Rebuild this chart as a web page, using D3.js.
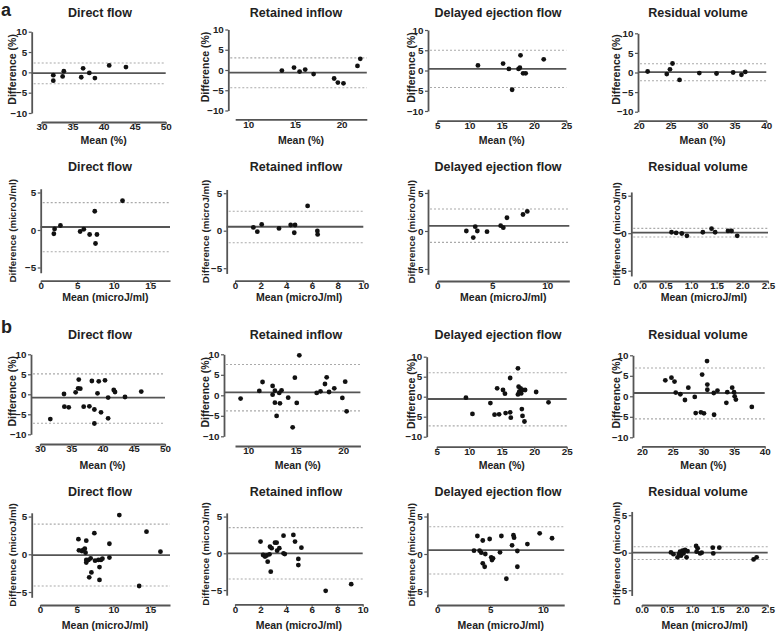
<!DOCTYPE html>
<html>
<head>
<meta charset="utf-8">
<script src="https://cdn.jsdelivr.net/npm/d3@7"></script>
<style>
  body { margin: 0; background: #fff; }
  svg text { font-family: "Liberation Sans", Arial, sans-serif; font-weight: bold; fill: #222; }
</style>
</head>
<body>
<div id="chart"></div>
<script>
// ---- data ----
const panelTitles = ['Direct flow', 'Retained inflow', 'Delayed ejection flow', 'Residual volume'];
const rowLetters = ['a', '', 'b', ''];

const pctYTicks = [-10, -5, 0, 5, 10];
const energyYTicks = [-5, 0, 5];
const pctYDomain = [-10, 10];
const energyYDomain = [-5.7, 5.5];
const pctXTicks = [[30, 35, 40, 45, 50], [10, 15, 20], [5, 10, 15, 20, 25], [20, 25, 30, 35, 40]];
const energyXTicks = [[0, 5, 10, 15], [0, 2, 4, 6, 8, 10], [0, 5, 10], [0, 0.5, 1, 1.5, 2, 2.5]];
const aPctXDomains = [[30, 50], [8.6, 22.7], [5, 25], [20, 40]];
const bPctXDomains = [[30, 50], [8.6, 21.8], [5, 25], [20, 40]];
const energyXDomains = [[0, 17.7], [0, 10], [0, 12], [0, 2.5]];

// a: percentages
const aPctDirectMean = [31.9, 31.9, 33.4, 33.6, 36.4, 36.7, 37.7, 38.6, 40.9, 43.6];
const aPctDirectDiff = [-0.7, -2.05, -1.0, 0.3, -1.2, 1.0, -0.15, -1.4, 1.7, 1.3];
const aPctRetainedMean = [13.6, 14.9, 15.5, 16.1, 17.0, 19.2, 19.6, 20.2, 21.7, 22.0];
const aPctRetainedDiff = [-0.15, 0.6, -0.4, 0.1, -1.0, -2.1, -3.1, -3.3, 1.0, 2.75];
const aPctDelayedMean = [11.3, 15.2, 16.1, 17.6, 17.8, 17.9, 16.6, 18.3, 18.7, 21.5];
const aPctDelayedDiff = [1.25, 1.7, 0.4, 0.4, 0.7, 3.75, -4.75, -0.7, -0.7, 2.75];
const aPctResidualMean = [21.4, 24.4, 24.9, 25.3, 26.4, 29.5, 32.2, 34.8, 36.1, 36.7];
const aPctResidualDiff = [0.25, -0.4, 0.8, 2.3, -1.9, -0.15, -0.25, 0.0, -0.6, 0.15];
const aPctBias = [-0.2, -0.65, 0.4, 0.1];
const aPctUpper = [2.3, 3.0, 5.0, 2.25];
const aPctLower = [-2.8, -4.4, -4.2, -2.1];

// a: energy (microJ/ml)
const aEnergyDirectMean = [1.8, 1.9, 2.7, 5.4, 5.9, 6.7, 7.4, 7.5, 7.7, 11.2];
const aEnergyDirectDiff = [-0.5, 0.15, 0.6, -0.2, 0.1, -0.6, 2.5, -1.8, -0.6, 3.9];
const aEnergyRetainedMean = [1.43, 1.74, 2.08, 3.43, 4.34, 4.68, 4.62, 5.66, 6.42, 6.44];
const aEnergyRetainedDiff = [0.44, -0.13, 0.84, 0.31, 0.76, 0.76, -0.27, 3.3, -0.04, -0.49];
const aEnergyDelayedMean = [2.64, 3.27, 3.45, 3.64, 4.52, 5.76, 6.0, 6.33, 7.79, 8.18];
const aEnergyDelayedDiff = [0, -0.87, 0.57, 0, -0.09, 0.7, 0.43, 1.74, 2.17, 2.57];
const aEnergyResidualMean = [0.62, 0.71, 0.82, 0.92, 1.23, 1.40, 1.47, 1.72, 1.79, 1.90];
const aEnergyResidualDiff = [0.13, 0.04, -0.04, -0.35, 0.13, 0.61, 0.13, 0.3, 0.3, -0.35];
const aEnergyBias = [0.4, 0.53, 0.67, 0.09];
const aEnergyUpper = [3.65, 2.6, 2.9, 0.65];
const aEnergyLower = [-2.9, -1.6, -1.5, -0.5];

// b: percentages
const bPctDirectMean = [31.65, 33.84, 33.9, 34.6, 35.7, 36.2, 36.1, 36.45, 36.99, 37.9, 38.3, 38.7, 38.7, 39.2, 39.4, 39.76, 40.4, 40.9, 40.9, 41.8, 42.0, 43.6, 46.2];
const bPctDirectDiff = [-6.2, 0.08, -3.1, -3.25, 0.5, 3.67, 1.5, 1.4, -3.1, -3.0, 3.33, -3.8, -7.3, 0.25, 3.25, -4.5, 3.5, -0.83, -6.0, 1.08, 0.58, -0.67, 0.67];
const bPctRetainedMean = [9.19, 11.16, 11.5, 12.56, 12.56, 12.8, 12.8, 12.98, 13.26, 13.33, 13.5, 14.2, 14.67, 14.9, 15.1, 15.37, 17.2, 17.6, 18.07, 18.25, 18.5, 19.05, 19.9, 20.2, 20.35];
const bPctRetainedDiff = [-0.81, 1.06, 3.25, 2.28, 0.16, 1.14, -1.79, -5.04, 0.57, -1.95, 1.22, -0.57, -7.8, 4.3, -1.87, 9.76, 0.57, 0.98, 2.76, 4.39, 0.81, 1.7, -0.65, 3.33, -3.9];
const bPctDelayedMean = [9.5, 10.5, 13.26, 13.9, 14.3, 14.6, 15.2, 15.5, 15.6, 16.3, 16.3, 16.4, 17.5, 17.5, 17.7, 17.6, 17.9, 18.0, 18.1, 18.2, 18.2, 18.5, 18.6, 20.3, 22.2];
const bPctDelayedDiff = [-0.25, -4.3, -1.6, -4.5, 2.1, -4.4, 1.67, 0.75, -4.1, -3.9, 4.67, -5.25, 7.1, 0.58, 1.25, 2.5, 2.1, 0.83, -3.1, 1.67, -4.8, -6.2, 1.67, 1.17, -1.4];
const bPctResidualMean = [23.8, 24.8, 25.3, 25.5, 26.25, 27.0, 27.55, 28.6, 28.75, 29.6, 29.8, 30.1, 30.6, 30.65, 30.65, 31.7, 31.75, 32.3, 33.75, 33.9, 34.7, 35.0, 35.1, 35.3, 37.9];
const bPctResidualDiff = [3.9, 4.55, 3.6, 0.9, 0.5, -0.9, 2.1, -0.15, -4.1, -3.9, 5.3, -4.15, 8.6, 2.85, 1.6, 0.8, -4.5, 1.4, -1.6, 1.0, 2.1, 1.0, 0.0, -0.8, -2.6];
const bPctBias = [-0.85, 0.73, -0.58, 0.81];
const bPctUpper = [5.1, 7.5, 6.0, 6.9];
const bPctLower = [-7.25, -3.8, -7.3, -5.5];

// b: energy (microJ/ml)
const bEnergyDirectMean = [5.23, 5.3, 5.7, 5.9, 6.1, 6.2, 6.3, 6.3, 6.3, 6.6, 6.7, 6.9, 7.0, 7.4, 7.5, 7.95, 8.1, 8.1, 8.3, 8.5, 9.45, 9.45, 10.8, 13.5, 14.5, 16.4];
const bEnergyDirectDiff = [2.0, 0.53, 0.44, 0.58, 0.75, 0.22, 1.8, -0.75, -1.1, -0.75, -3.05, -0.53, -2.4, 2.8, -0.84, -0.75, -1.7, -3.4, -0.75, -0.58, 1.4, -0.44, 5.2, -4.2, 3.0, 0.35];
const bEnergyRetainedMean = [2.0, 2.2, 2.35, 2.48, 2.56, 2.7, 2.74, 2.8, 2.87, 3.13, 3.26, 3.3, 3.47, 3.8, 3.8, 3.9, 4.57, 4.7, 4.96, 4.96, 5.2, 7.1, 9.1];
const bEnergyRetainedDiff = [1.6, -0.23, -0.45, -0.3, -1.14, -0.14, 0.9, -2.5, 0.7, 1.45, 1.45, 0.36, 0.7, 2.4, 0, -0.1, 2.5, 1.6, -0.77, -1.6, 0.77, -5.1, -4.2];
const bEnergyDelayedMean = [3.47, 3.79, 4.0, 4.16, 4.3, 4.3, 4.48, 4.54, 4.95, 5.1, 5.17, 5.27, 6.06, 5.93, 6.53, 7.07, 7.2, 7.26, 7.57, 7.57, 8.52, 9.68, 10.85];
const bEnergyDelayedDiff = [0.44, 2.4, 0.44, 0.18, 1.8, -1.24, -1.7, 0, 2.0, -0.44, -0.8, -0.58, 2.4, 0.22, -3.3, 1.16, 2.5, 2.18, 0.4, -1.7, 1.33, 2.76, 2.1];
const bEnergyResidualMean = [0.58, 0.63, 0.71, 0.74, 0.76, 0.78, 0.81, 0.83, 0.86, 0.89, 0.91, 1.08, 1.09, 1.11, 1.16, 1.19, 1.41, 1.42, 1.54, 2.22, 2.28];
const bEnergyResidualDiff = [0.04, -0.2, -0.62, -0.2, 0.13, -0.4, 0.27, -0.1, 0.36, -0.62, 0.22, 0.9, 0.13, 0.58, -0.1, 0, 0.67, -0.1, 0.67, -0.9, -0.62];
const bEnergyBias = [-0.1, 0, 0.53, 0];
const bEnergyUpper = [4.0, 3.5, 3.64, 0.8];
const bEnergyLower = [-4.2, -3.5, -2.67, -0.9];

// ---- assemble rows ----
const rows = [
  { letter: rowLetters[0], yLabel: 'Difference (%)', xLabel: 'Mean (%)', yTicks: pctYTicks, yDomain: pctYDomain,
    xTicks: pctXTicks, xDomains: aPctXDomains, bias: aPctBias, upper: aPctUpper, lower: aPctLower,
    series: [[aPctDirectMean, aPctDirectDiff], [aPctRetainedMean, aPctRetainedDiff], [aPctDelayedMean, aPctDelayedDiff], [aPctResidualMean, aPctResidualDiff]] },
  { letter: rowLetters[1], yLabel: 'Difference (microJ/ml)', xLabel: 'Mean (microJ/ml)', yTicks: energyYTicks, yDomain: energyYDomain,
    xTicks: energyXTicks, xDomains: energyXDomains, bias: aEnergyBias, upper: aEnergyUpper, lower: aEnergyLower,
    series: [[aEnergyDirectMean, aEnergyDirectDiff], [aEnergyRetainedMean, aEnergyRetainedDiff], [aEnergyDelayedMean, aEnergyDelayedDiff], [aEnergyResidualMean, aEnergyResidualDiff]] },
  { letter: rowLetters[2], yLabel: 'Difference (%)', xLabel: 'Mean (%)', yTicks: pctYTicks, yDomain: pctYDomain,
    xTicks: pctXTicks, xDomains: bPctXDomains, bias: bPctBias, upper: bPctUpper, lower: bPctLower,
    series: [[bPctDirectMean, bPctDirectDiff], [bPctRetainedMean, bPctRetainedDiff], [bPctDelayedMean, bPctDelayedDiff], [bPctResidualMean, bPctResidualDiff]] },
  { letter: rowLetters[3], yLabel: 'Difference (microJ/ml)', xLabel: 'Mean (microJ/ml)', yTicks: energyYTicks, yDomain: energyYDomain,
    xTicks: energyXTicks, xDomains: energyXDomains, bias: bEnergyBias, upper: bEnergyUpper, lower: bEnergyLower,
    series: [[bEnergyDirectMean, bEnergyDirectDiff], [bEnergyRetainedMean, bEnergyRetainedDiff], [bEnergyDelayedMean, bEnergyDelayedDiff], [bEnergyResidualMean, bEnergyResidualDiff]] }
];

// ---- layout (pixels), one entry per row ----
const layout = [
  { letterY: 11, titleY: 14, xLabelY: 141, yLabelFont: 10.5, yLabelShift: -3,
    yAxisX: [31.7, 228.3, 428, 638], xAxisY: [122, 119.3, 120.7, 120.7],
    xRange: [[41.5, 165.7], [235.2, 366.8], [437.3, 566.3], [638.7, 766.3]],
    yRange: [[113, 31.7], [110.5, 29.5], [111, 30], [111.7, 33.3]] },
  { titleY: 168, xLabelY: 298.5, yLabelFont: 9.8, yLabelShift: 0,
    yAxisX: [40.7, 226.7, 428, 631.3], xAxisY: [280.7, 280.7, 281, 281],
    xRange: [[40.7, 170], [235, 363.3], [437.3, 569.3], [639.7, 768]],
    yRange: [[272.75, 188.75], [273.45, 189.45], [274.3, 189.2], [275.95, 191.95]] },
  { letterY: 328, titleY: 336, xLabelY: 466, yLabelFont: 10.5, yLabelShift: -3,
    yAxisX: [31, 224, 426.7, 633], xAxisY: [444, 446, 446.7, 446.3],
    xRange: [[40, 165], [235, 360.4], [436.7, 566.7], [642, 764.7]],
    yRange: [[434.3, 354.3], [436.3, 354.3], [436.7, 356.7], [437.3, 355.3]] },
  { titleY: 493, xLabelY: 626, yLabelFont: 9.8, yLabelShift: 0,
    yAxisX: [31.7, 226.7, 427.3, 631.7], xAxisY: [605, 604.3, 605, 605],
    xRange: [[40, 170], [235, 362.7], [437.3, 564.2], [641.7, 767.7]],
    yRange: [[597.3, 512.8], [595.2, 512.9], [596.75, 512.75], [595.45, 511.45]] }
];
const titleX = [100, 296, 498, 698];
const yLabelX = [13, 206, 412, 617];

const axisColor = '#555';
const svg = d3.select('#chart').append('svg')
  .attr('width', 778).attr('height', 634);

rows.forEach((row, r) => {
  const L = layout[r];
  if (row.letter) {
    svg.append('text').attr('x', 1).attr('y', L.letterY)
      .attr('dominant-baseline', 'middle')
      .style('font-size', '18px').text(row.letter);
  }
  row.series.forEach((s, c) => {
    const g = svg.append('g');
    const x = d3.scaleLinear().domain(row.xDomains[c]).range(L.xRange[c]);
    const y = d3.scaleLinear().domain(row.yDomain).range(L.yRange[c]);
    const xEnd = L.xRange[c][1];

    // limits of agreement (dotted) and bias (solid)
    [row.upper[c], row.lower[c]].forEach(v => {
      g.append('line')
        .attr('x1', L.yAxisX[c] + 2).attr('x2', xEnd)
        .attr('y1', y(v)).attr('y2', y(v))
        .attr('stroke', '#aaa').attr('stroke-width', 1.1)
        .attr('stroke-dasharray', '2,2');
    });
    g.append('line')
      .attr('x1', L.yAxisX[c]).attr('x2', xEnd)
      .attr('y1', y(row.bias[c])).attr('y2', y(row.bias[c]))
      .attr('stroke', axisColor).attr('stroke-width', 1.8);

    // y axis
    const ya = g.append('g')
      .attr('transform', 'translate(' + L.yAxisX[c] + ',0)')
      .call(d3.axisLeft(y).tickValues(row.yTicks).tickSize(3).tickSizeOuter(0).tickPadding(1.5));
    // x axis
    const fmt = c === 3 && r % 2 === 1 ? d3.format('.1f') : d3.format('d');
    const xa = g.append('g')
      .attr('transform', 'translate(0,' + L.xAxisY[c] + ')')
      .call(d3.axisBottom(x).tickValues(row.xTicks[c]).tickFormat(fmt).tickSize(2.5).tickSizeOuter(0).tickPadding(-1));
    [ya, xa].forEach(a => {
      a.select('.domain').attr('stroke', axisColor).attr('stroke-width', 1.8);
      a.selectAll('.tick line').attr('stroke', axisColor).attr('stroke-width', 1.2);
      a.selectAll('.tick text')
        .style('font-family', '"Liberation Sans", Arial, sans-serif')
        .style('font-weight', 'bold').style('font-size', '9.8px').attr('fill', '#333');
    });

    // points
    g.selectAll('circle')
      .data(s[0].map((m, i) => [m, s[1][i]]))
      .enter()
      .append('circle')
        .attr('cx', d => x(d[0]))
        .attr('cy', d => y(d[1]))
        .attr('r', 2.4)
        .attr('fill', '#111');

    // titles
    g.append('text')
      .attr('x', titleX[c]).attr('y', L.titleY)
      .attr('text-anchor', 'middle').attr('dominant-baseline', 'middle')
      .style('font-size', '12.5px').text(panelTitles[c]);
    g.append('text')
      .attr('x', (L.xRange[c][0] + xEnd) / 2).attr('y', L.xLabelY)
      .attr('text-anchor', 'middle').attr('dominant-baseline', 'middle')
      .style('font-size', '10.5px').text(row.xLabel);
    const yMid = (L.yRange[c][0] + L.yRange[c][1]) / 2 + L.yLabelShift;
    g.append('text')
      .attr('transform', 'translate(' + yLabelX[c] + ',' + yMid + ') rotate(-90)')
      .attr('text-anchor', 'middle').attr('dominant-baseline', 'middle')
      .style('font-size', L.yLabelFont + 'px').text(row.yLabel);
  });
});
</script>
</body>
</html>
